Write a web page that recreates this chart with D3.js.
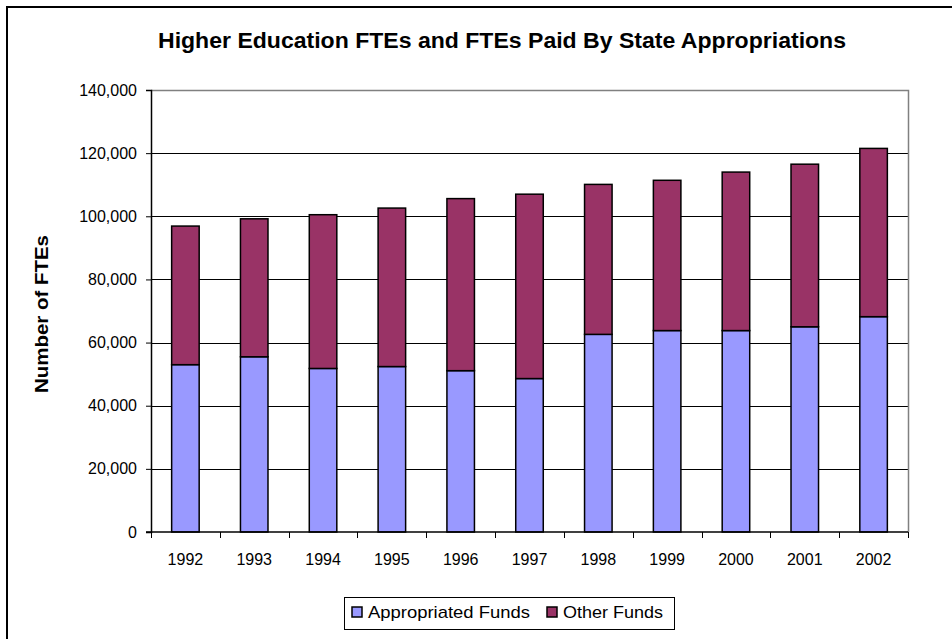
<!DOCTYPE html>
<html>
<head>
<meta charset="utf-8">
<script src="https://cdn.jsdelivr.net/npm/d3@7"></script>
<style>
  body { margin: 0; background: #fff; }
  svg { display: block; }
  text { font-family: "Liberation Sans", Arial, sans-serif; fill: #000; }
</style>
</head>
<body>
<script>
// Chart data
const years = ['1992', '1993', '1994', '1995', '1996', '1997', '1998', '1999', '2000', '2001', '2002'];
const appropriated = [53000, 55500, 51800, 52400, 51100, 48600, 62600, 63800, 63800, 65000, 68200];
const totals = [96900, 99200, 100500, 102600, 105600, 107000, 110100, 111400, 114000, 116500, 121500];
const other = totals.map((t, i) => t - appropriated[i]);
const yTicks = [0, 20000, 40000, 60000, 80000, 100000, 120000, 140000];
const seriesNames = ['Appropriated Funds', 'Other Funds'];
const colors = ['#9999FF', '#993366'];

const W = 952, H = 639;
const plot = { left: 151, right: 908, top: 90, bottom: 532 };

const svg = d3.select('body').append('svg')
  .attr('width', W)
  .attr('height', H);

// outer frame (runs off the right and bottom edges)
svg.append('rect')
  .attr('x', 7).attr('y', 7)
  .attr('width', 1000).attr('height', 700)
  .attr('fill', 'none')
  .attr('stroke', '#000')
  .attr('stroke-width', 2);

// scales
const x = d3.scaleBand()
  .domain(years)
  .range([plot.left, plot.right])
  .paddingInner(0.6)
  .paddingOuter(0.3);
const y = d3.scaleLinear()
  .domain([0, 140000])
  .range([plot.bottom, plot.top]);

// gridlines
svg.append('g')
  .selectAll('line')
  .data(yTicks.slice(1, -1))
  .join('line')
  .attr('x1', plot.left).attr('x2', plot.right)
  .attr('y1', d => Math.round(y(d)) + 0.5).attr('y2', d => Math.round(y(d)) + 0.5)
  .attr('stroke', '#000')
  .attr('stroke-width', 1);

// plot area top / right border
svg.append('path')
  .attr('d', `M${plot.left},${plot.top + 0.5}H${plot.right + 0.5}V${plot.bottom}`)
  .attr('fill', 'none')
  .attr('stroke', '#808080')
  .attr('stroke-width', 1.5);

// stacked bars
const stackData = years.map((yr, i) => ({ year: yr, a: appropriated[i], o: other[i] }));
const stack = d3.stack().keys(['a', 'o'])(stackData);

svg.append('g')
  .selectAll('g')
  .data(stack)
  .join('g')
  .attr('fill', (d, i) => colors[i])
  .selectAll('rect')
  .data(d => d)
  .join('rect')
  .attr('x', d => x(d.data.year))
  .attr('y', d => y(d[1]))
  .attr('width', x.bandwidth())
  .attr('height', d => y(d[0]) - y(d[1]))
  .attr('stroke', '#000')
  .attr('stroke-width', 1.5);

// y axis
const yAxis = d3.axisLeft(y)
  .tickValues(yTicks)
  .tickFormat(d3.format(','))
  .tickSize(5)
  .tickPadding(9);
const gy = svg.append('g')
  .attr('transform', `translate(${plot.left},0)`)
  .call(yAxis);
gy.select('.domain').attr('stroke', '#000').attr('stroke-width', 1.5);
gy.selectAll('.tick line').attr('stroke', '#000');
gy.selectAll('.tick text')
  .attr('font-family', '"Liberation Sans", Arial, sans-serif')
  .attr('font-size', 16)
  .attr('fill', '#000');

// x axis: baseline, boundary ticks and labels
const step = x.step();
const boundaries = years.map(yr => x(yr) - (step - x.bandwidth()) / 2).concat([plot.right]);
svg.append('line')
  .attr('x1', plot.left - 5).attr('x2', plot.right)
  .attr('y1', plot.bottom).attr('y2', plot.bottom)
  .attr('stroke', '#000')
  .attr('stroke-width', 1.5);
svg.append('g')
  .selectAll('line')
  .data(boundaries)
  .join('line')
  .attr('x1', d => Math.round(d) + 0.5).attr('x2', d => Math.round(d) + 0.5)
  .attr('y1', plot.bottom).attr('y2', plot.bottom + 6)
  .attr('stroke', '#000');
svg.append('g')
  .selectAll('text')
  .data(years)
  .join('text')
  .attr('x', d => x(d) + x.bandwidth() / 2)
  .attr('y', 565)
  .attr('text-anchor', 'middle')
  .attr('font-size', 16)
  .text(d => d);

// title
svg.append('text')
  .attr('x', 502)
  .attr('y', 48)
  .attr('text-anchor', 'middle')
  .attr('font-family', '"DejaVu Sans", sans-serif')
  .attr('font-weight', 'bold')
  .attr('font-size', 22.5)
  .attr('textLength', 688)
  .attr('lengthAdjust', 'spacingAndGlyphs')
  .text('Higher Education FTEs and FTEs Paid By State Appropriations');

// y axis title
svg.append('text')
  .attr('transform', 'translate(48,314) rotate(-90)')
  .attr('text-anchor', 'middle')
  .attr('font-family', '"DejaVu Sans", sans-serif')
  .attr('font-weight', 'bold')
  .attr('font-size', 18)
  .attr('textLength', 158)
  .attr('lengthAdjust', 'spacingAndGlyphs')
  .text('Number of FTEs');

// legend
const legend = svg.append('g');
legend.append('rect')
  .attr('x', 344.5).attr('y', 597.5)
  .attr('width', 330).attr('height', 32)
  .attr('fill', '#fff')
  .attr('stroke', '#000')
  .attr('stroke-width', 1);
const legendX = [352, 547];
const legendTextW = [162, 100];
seriesNames.forEach((name, i) => {
  legend.append('rect')
    .attr('x', legendX[i]).attr('y', 607)
    .attr('width', 10).attr('height', 10)
    .attr('fill', colors[i])
    .attr('stroke', '#000')
    .attr('stroke-width', 1.5);
  legend.append('text')
    .attr('x', legendX[i] + 16)
    .attr('y', 618)
    .attr('font-size', 17)
    .attr('textLength', legendTextW[i])
    .attr('lengthAdjust', 'spacingAndGlyphs')
    .text(name);
});
</script>
</body>
</html>
